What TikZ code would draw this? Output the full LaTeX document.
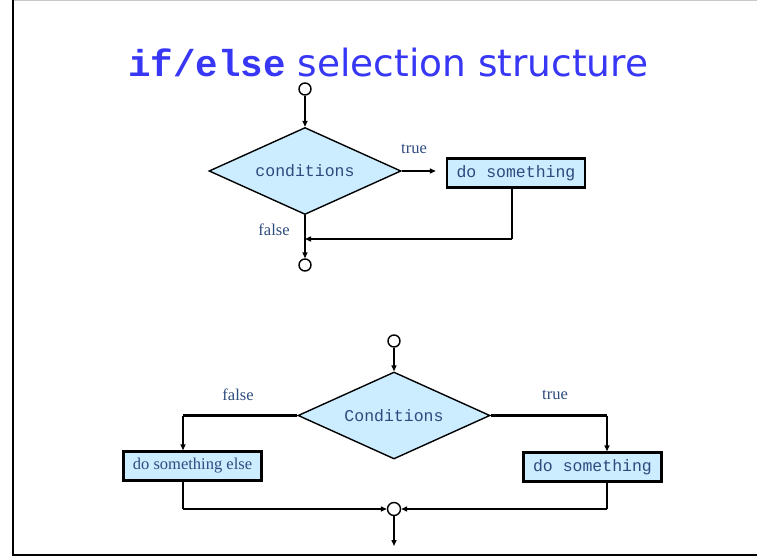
\documentclass[tikz,border=0pt]{standalone}
\usepackage{fontspec}
\setmainfont{Liberation Serif}
\setmonofont{Liberation Mono}
\newfontfamily\titlesans{DejaVu Sans}
\newfontfamily\titlemono{Liberation Mono}
\usetikzlibrary{shapes.geometric,arrows.meta}
\definecolor{boxfill}{RGB}{204,236,255}
\definecolor{txtc}{RGB}{45,75,125}
\definecolor{titlec}{RGB}{55,55,245}
\definecolor{framegray}{RGB}{200,200,200}
\tikzset{
  decision/.style={diamond, aspect=2.2, draw=black, line width=1.4pt, fill=boxfill, inner sep=0pt,
    minimum width=192pt, minimum height=87pt, text=txtc, font=\fontsize{16.5}{18}\ttfamily},
  actbox/.style={rectangle, draw=black, line width=2.4pt, fill=boxfill, inner sep=0pt,
    minimum width=138pt, minimum height=29pt, text=txtc},
  monotext/.style={font=\fontsize{16.5}{18}\ttfamily},
  serftext/.style={font=\fontsize{16.5}{18}\selectfont},
  lbl/.style={text=txtc, font=\fontsize{16.5}{18}\selectfont, inner sep=0pt},
  junction/.style={circle, draw=black, line width=1.4pt, fill=white, minimum size=12pt, inner sep=0pt},
  conn/.style={line width=1.4pt, -{Triangle[length=6pt,width=5pt]}},
  plainconn/.style={line width=1.4pt},
  thickconn/.style={line width=2.8pt},
}
\begin{document}
\begin{tikzpicture}[x=1pt,y=-1pt]
\useasboundingbox (0,0) rectangle (757,556);
% frame
\draw[framegray, line width=1pt] (13,1) -- (757,1);
\draw[black, line width=2pt] (13,0) -- (13,555) -- (757,555);

% title
\node[anchor=base west, inner sep=0pt, text=titlec] (title) at (128,77)
  {{\fontsize{37.5}{40}\titlemono\bfseries if/else}{\fontsize{37.5}{40}\titlesans\ selection structure}};

% ---------- top chart ----------
\node[junction] (c1) at (305,89) {};
\node[decision] (d1) at (305,171) {conditions};
\node[actbox, monotext] (b1) at (516,173) {do something};
\node[junction] (c2) at (305,265) {};
\coordinate (b1out) at (512,188);
\coordinate (b1turn) at (512,239);
\coordinate (j1) at (305,239);

\draw[conn] (c1) -- (d1.north);
\draw[conn, shorten >=10pt] (d1.east) -- (d1.east -| b1.west);
\draw[plainconn] (b1out) -- (b1turn);
\draw[conn] (b1turn) -- (j1);
\draw[conn] (d1.south) -- (c2);

\node[lbl] (ltrue1) at (414,149) {true};
\node[lbl] (lfalse1) at (274,230) {false};

% ---------- bottom chart ----------
\node[junction] (c3) at (394,341) {};
\node[decision] (d2) at (394,415.5) {Conditions};
\node[actbox, serftext] (b2) at (192.5,466) {do something else};
\node[actbox, monotext] (b3) at (592.5,467) {do something};
\node[junction, minimum size=13pt] (c4) at (394,509) {};
\coordinate (lt) at (183,415.5);
\coordinate (rt) at (607,415.5);
\coordinate (b2out) at (183,480);
\coordinate (b2turn) at (183,509);
\coordinate (b3out) at (607,481);
\coordinate (b3turn) at (607,509);
\coordinate (endpt) at (394,546);

\draw[conn] (c3) -- (d2.north);
\draw[thickconn] (d2.west) -- (lt);
\draw[conn] (lt) -- (lt |- b2.north);
\draw[thickconn] (d2.east) -- (rt);
\draw[conn] (rt) -- (rt |- b3.north);
\draw[plainconn] (b2out) -- (b2turn);
\draw[conn] (b2turn) -- (c4.west);
\draw[plainconn] (b3out) -- (b3turn);
\draw[conn] (b3turn) -- (c4.east);
\draw[conn] (c4.south) -- (endpt);

\node[lbl] (lfalse2) at (238,395) {false};
\node[lbl] (ltrue2) at (555,395) {true};
\end{tikzpicture}
\end{document}
